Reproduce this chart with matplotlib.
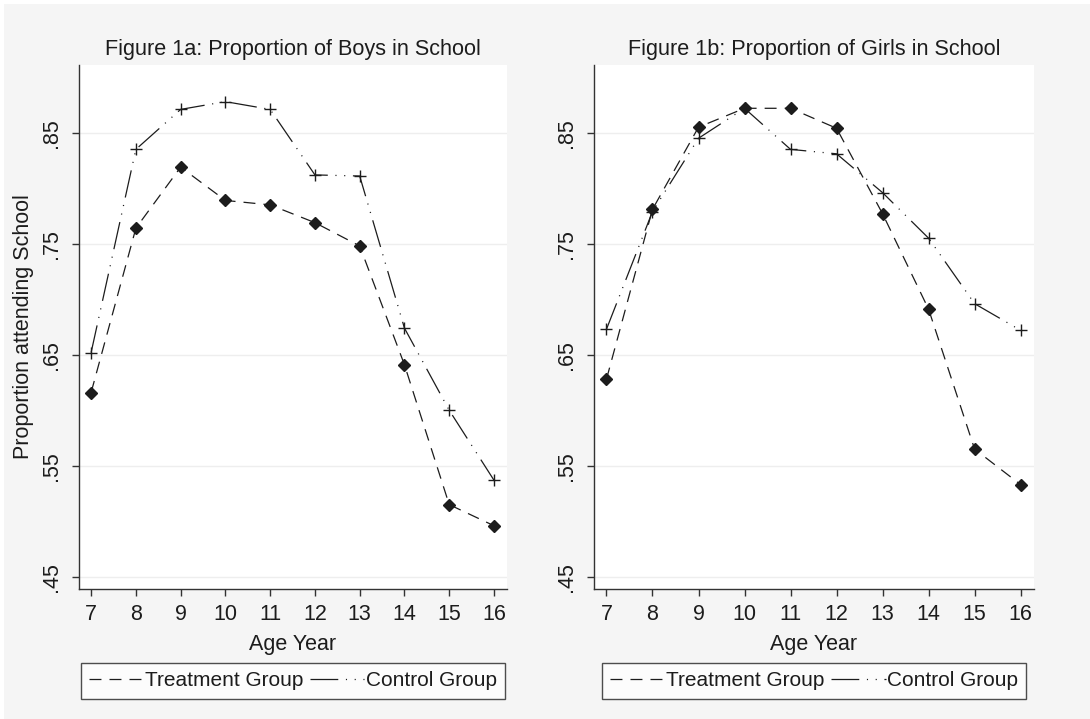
import matplotlib
matplotlib.use("Agg")
import matplotlib.pyplot as plt
from matplotlib.lines import Line2D
from matplotlib.patches import Rectangle

plt.rcParams['font.family'] = ['Liberation Sans', 'DejaVu Sans']
plt.rcParams['lines.scale_dashes'] = False

# proportions attending school by age
ages = [7, 8, 9, 10, 11, 12, 13, 14, 15, 16]
boys_treatment = [0.616, 0.764, 0.819, 0.789, 0.785, 0.769, 0.748, 0.641, 0.515, 0.496]
boys_control = [0.652, 0.835, 0.871, 0.878, 0.871, 0.812, 0.811, 0.674, 0.600, 0.537]
girls_treatment = [0.628, 0.781, 0.855, 0.872, 0.872, 0.854, 0.777, 0.691, 0.565, 0.533]
girls_control = [0.673, 0.779, 0.845, 0.872, 0.835, 0.831, 0.796, 0.755, 0.696, 0.672]

titles = ['Figure 1a: Proportion of Boys in School',
          'Figure 1b: Proportion of Girls in School']
yticks = [0.45, 0.55, 0.65, 0.75, 0.85]
ytick_labels = ['.45', '.55', '.65', '.75', '.85']

bg = '#f5f5f5'
ink = '#1c1c1c'
treat_dash = (0, (8.6, 5.8))
ctrl_dash = (0, (20, 5.5, 0.8, 5.5, 0.8, 5.5))

fig = plt.figure(figsize=(10.9, 7.19), dpi=100, facecolor='white')
fig.patches.append(Rectangle((4 / 1090, 0), 1, 1 - 4 / 719, transform=fig.transFigure,
                             facecolor=bg, edgecolor='none', zorder=-10))

panels = [
    (fig.add_axes([0.0725, 0.1808, 0.3926, 0.7288]), boys_treatment, boys_control),
    (fig.add_axes([0.5450, 0.1808, 0.4036, 0.7288]), girls_treatment, girls_control),
]

for i, (ax, treat, ctrl) in enumerate(panels):
    ax.set_facecolor('white')
    ax.plot(ages, treat, color=ink, lw=0.9, linestyle=treat_dash,
            marker='D', markersize=6, markerfacecolor=ink, markeredgecolor=ink, zorder=3)
    ax.plot(ages, ctrl, color=ink, lw=0.9, linestyle=ctrl_dash,
            marker='+', markersize=8, markeredgewidth=1.0, markeredgecolor=ink, zorder=3)

    ax.set_xlim(6.73, 16.29)
    ax.set_ylim(0.439, 0.911)
    ax.set_xticks(ages)
    ax.set_yticks(yticks)
    ax.set_yticklabels(ytick_labels, rotation=90, va='center')
    ax.grid(axis='y', color='#eeeeee', lw=1)
    ax.set_axisbelow(True)

    for side in ['top', 'right']:
        ax.spines[side].set_visible(False)
    for side in ['left', 'bottom']:
        ax.spines[side].set_color('#333333')
        ax.spines[side].set_linewidth(1.0)
    ax.tick_params(axis='both', labelsize=15.5, length=5, width=1.0,
                   color='#333333', labelcolor=ink)
    ax.tick_params(axis='x', pad=6)
    ax.tick_params(axis='y', pad=7)

    ax.set_title(titles[i], fontsize=15.6, color=ink, pad=7)
    ax.set_xlabel('Age Year', fontsize=15.5, color=ink, labelpad=6)
    if i == 0:
        ax.set_ylabel('Proportion attending School', fontsize=15.5, color=ink, labelpad=5)

    handles = [Line2D([], [], color=ink, lw=0.9, linestyle=treat_dash),
               Line2D([], [], color=ink, lw=0.9, linestyle=ctrl_dash)]
    leg = ax.legend(handles, ['Treatment Group', 'Control Group'], ncol=2,
                    loc='center', bbox_to_anchor=(0.5, -0.175), frameon=True,
                    fancybox=False, fontsize=15, handlelength=2.6,
                    handletextpad=0.05, columnspacing=0.35, borderpad=0.4,
                    borderaxespad=0)
    frame = leg.get_frame()
    frame.set_edgecolor('#222222')
    frame.set_linewidth(1.0)
    frame.set_facecolor('white')
    for t in leg.get_texts():
        t.set_color(ink)

fig.savefig('out.png', dpi=100, facecolor=fig.get_facecolor())
